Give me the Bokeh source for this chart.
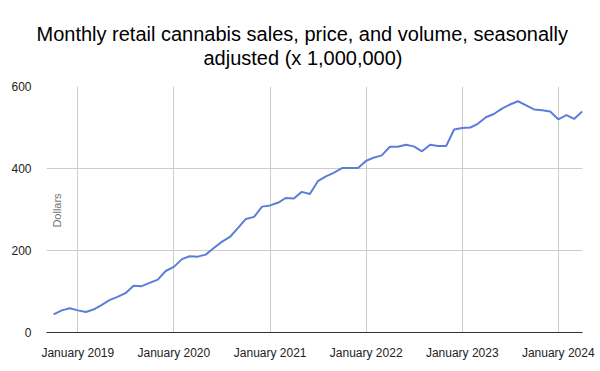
import math
from datetime import datetime
from bokeh.plotting import figure
from bokeh.models import (Range1d, FixedTicker, DatetimeTickFormatter, Label, Title, ColumnDataSource)
from bokeh.embed import file_html
from bokeh.resources import INLINE

title_lines = ["Monthly retail cannabis sales, price, and volume, seasonally",
               "adjusted (x 1,000,000)"]
y_title = "Dollars"
start_year, start_month = 2018, 10
sales = [
    44, 54, 59,
    54, 50, 56, 67, 79, 87, 96, 114, 113, 121, 129, 150,
    160, 179, 186, 185, 190, 206, 221, 233, 255, 277, 282, 307,
    310, 317, 328, 327, 343, 338, 369, 381, 390, 401, 401, 401,
    419, 427, 432, 453, 453, 458, 454, 442, 458, 455, 455, 495,
    499, 500, 509, 525, 533, 546, 556, 564, 554, 544, 542, 539,
    520, 530, 521, 539,
]
tick_years = [2019, 2020, 2021, 2022, 2023, 2024]
y_ticks = [0, 200, 400, 600]

months = []
y, m = start_year, start_month
for _ in sales:
    months.append(datetime(y, m, 1))
    m += 1
    if m > 12:
        m = 1
        y += 1

src = ColumnDataSource(dict(month=months, sales=sales))

W, H = 600, 371
FL, FB = 46, 39  # frame left / bottom offsets (screen-unit labels are frame-relative)
p = figure(width=W, height=H, x_axis_type="datetime", output_backend="svg",
           toolbar_location=None,
           x_range=Range1d(datetime(2018, 9, 4), datetime(2024, 4, 2)),
           y_range=Range1d(0, 600),
           min_border_left=FL, min_border_right=18, min_border_top=86, min_border_bottom=FB)
p.outline_line_color = None
p.background_fill_color = "white"
p.border_fill_color = "white"

p.line("month", "sales", source=src, line_color="#5b7fd9", line_width=2)

tick_ms = [datetime(yy, 1, 1).timestamp() * 1000 for yy in tick_years]
p.xaxis.ticker = FixedTicker(ticks=tick_ms)
fmt = "%B %Y"
p.xaxis.formatter = DatetimeTickFormatter(milliseconds=fmt, seconds=fmt, minsec=fmt, minutes=fmt,
                                          hourmin=fmt, hours=fmt, days=fmt, months=fmt, years=fmt)
p.yaxis.ticker = FixedTicker(ticks=y_ticks)

for ax in (p.xaxis, p.yaxis):
    ax.major_tick_line_color = None
    ax.minor_tick_line_color = None
    ax.major_label_text_font = "Liberation Sans"
    ax.major_label_text_font_size = "12px"
    ax.major_label_text_color = "#222222"
p.xaxis.axis_line_color = "#333333"
p.xaxis.major_label_standoff = 7
p.yaxis.axis_line_color = None
p.yaxis.major_label_standoff = 9

p.xgrid.grid_line_color = "#cccccc"
p.ygrid.grid_line_color = "#cccccc"

common = dict(align="left", text_font="Liberation Sans", text_font_size="20px",
              text_color="#000000", text_font_style="normal", text_line_height=1.0,
              vertical_align="bottom", standoff=0)
# spacer between the frame and the second title line
p.add_layout(Title(text=" ", align="left", text_font_size="14px", text_line_height=1.0,
                   standoff=0, vertical_align="bottom"), "above")
p.add_layout(Title(text=title_lines[1], offset=157, **common), "above")
p.add_layout(Title(text=title_lines[0], offset=-10, **common), "above")
p.title.visible = False

tx, ty = 56 - FL, (H - 210) - FB
p.add_layout(Label(x=tx, y=ty, x_units="screen", y_units="screen", text=y_title,
                   angle=math.pi / 2, text_align="center", text_baseline="alphabetic",
                   text_font="Liberation Sans", text_font_size="11px", text_color="#757575"))

open("out.html", "w").write(file_html(p, INLINE))
